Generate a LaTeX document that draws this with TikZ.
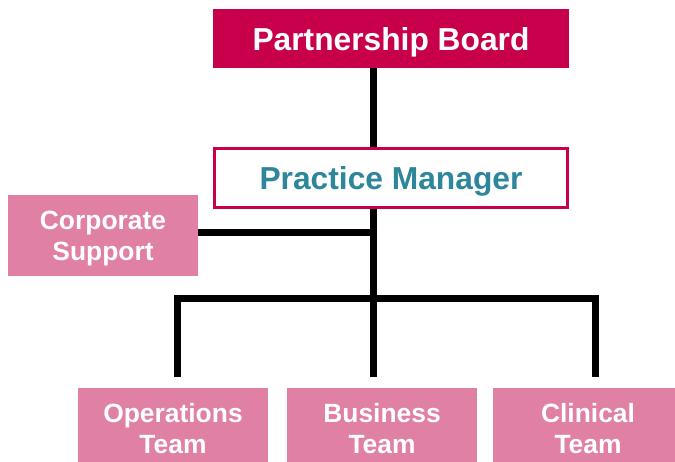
\documentclass[tikz,border=0pt]{standalone}
\usepackage{fontspec}
\setmainfont{Liberation Sans}
\definecolor{crimson}{HTML}{C8004B}
\definecolor{pinkbox}{HTML}{E080A5}
\definecolor{tealtxt}{HTML}{2E869A}
\begin{document}
\begin{tikzpicture}[x=1pt,y=1pt,
  bigtext/.style={font=\fontsize{31.75}{38}\selectfont\bfseries, text depth=0pt},
  smalltext/.style={font=\fontsize{26.4}{31}\selectfont\bfseries, align=center, text=white},
  topbox/.style={rectangle, inner sep=0pt, minimum width=356, minimum height=59, fill=crimson, text=white, bigtext},
  mgrbox/.style={rectangle, inner sep=0pt, minimum width=353, minimum height=59, draw=crimson, line width=3pt, fill=white, text=tealtxt, bigtext},
  teambox/.style={rectangle, inner sep=0pt, minimum width=190, minimum height=81, fill=pinkbox, smalltext},
  conn/.style={draw=black, line width=7pt, line join=miter}]
\clip (0,0) rectangle (675,-461);
\fill[white] (0,0) rectangle (675,-461);
\node[topbox] (board) at (391,-38.5) {Partnership Board};
\node[mgrbox] (pm) at (391,-178) {Practice Manager};
\node[teambox, text depth=0pt] (cs) at (103,-235.5) {Corporate\\Support};
\node[teambox] (ops) at (173,-428.5) {Operations\\Team};
\node[teambox] (biz) at (382,-428.5) {Business\\Team};
\node[teambox] (clin) at (588,-428.5) {Clinical\\Team};
\coordinate (j) at (373,-298);
\coordinate (csj) at (373,-232);
\coordinate (ol) at (177,-377);
\coordinate (bl) at (373,-377);
\coordinate (cl) at (595,-377);
\draw[conn] (board.south -| j) -- (pm.north -| j);
\draw[conn] (pm.south -| j) -- ([yshift=-3.5pt]j);
\draw[conn] (cs.east |- csj) -- ([xshift=3.5pt]csj);
\draw[conn] (ol) -- (ol |- j) -- (cl |- j) -- (cl);
\draw[conn] (j) -- (bl);
\end{tikzpicture}
\end{document}
